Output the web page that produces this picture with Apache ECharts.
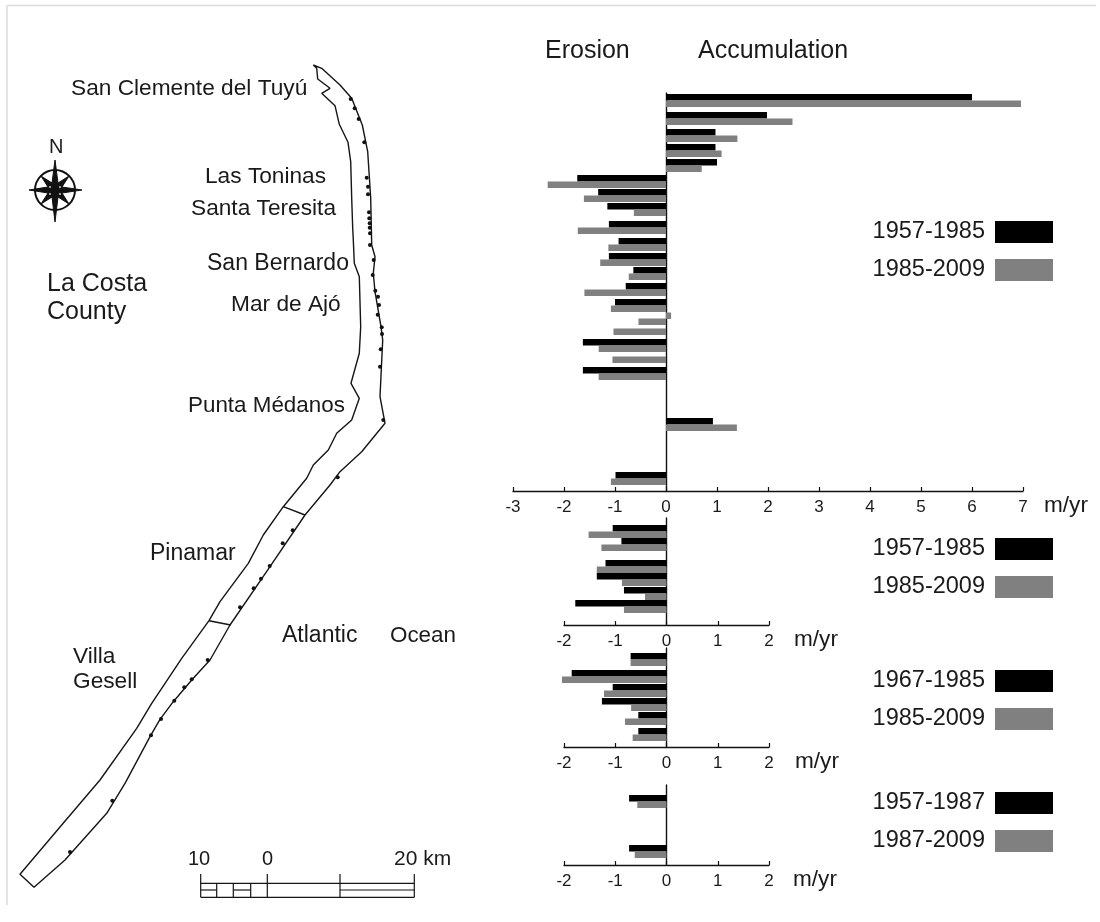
<!DOCTYPE html>
<html><head><meta charset="utf-8">
<style>html,body{margin:0;padding:0;background:#fff}#c{width:1100px;height:922px}</style>
<script src="https://cdn.jsdelivr.net/npm/echarts@6/dist/echarts.min.js"></script>
</head><body><div id="c"></div>
<script>
// ---- bar data: alongshore position of each transect, and retreat / advance rate in m/yr
const pos1 = [7,25,42,57,72,88,102,116,134,151,166,180,196,212,219,225,235,252,263,280,331,385];
const early1 = [6.0,1.98,0.97,0.97,1.0,-1.74,-1.33,-1.15,-1.12,-0.93,-1.12,-0.64,-0.79,-1.0,null,null,null,-1.63,null,-1.63,0.92,-0.99];
const late1 = [6.96,2.48,1.40,1.09,0.70,-2.32,-1.61,-0.63,-1.73,-1.13,-1.29,-0.73,-1.60,-1.08,0.10,-0.54,-1.03,-1.32,-1.05,-1.32,1.39,-1.08];
const pos2 = [13,26,48,61,75,88];
const early2 = [-1.05,-0.88,-1.19,-1.36,-0.83,-1.78];
const late2 = [-1.52,-1.27,-1.36,-0.87,-0.42,-0.83];
const pos3 = [11,28,42,56,70,86];
const early3 = [-0.70,-1.85,-1.05,-1.26,-0.55,-0.55];
const late3 = [-0.70,-2.04,-1.22,-0.69,-0.81,-0.66];
const pos4 = [16,66];
const early4 = [-0.73,-0.73];
const late4 = [-0.57,-0.62];
const periods = [['1957-1985','1985-2009'],['1957-1985','1985-2009'],['1967-1985','1985-2009'],['1957-1987','1987-2009']];

// ---- map data (coordinates)
const coast = [[313.3,65],[316.7,68.3],[317.7,79],[330,88.3],[321.7,93.3],[335,105.7],[339.3,124.3],[348,142.3],[350.7,161.7],[351.7,198.3],[352.7,228.3],[353.3,240],[354.3,263.3],[359.3,276.7],[360.7,326.7],[359.3,353.3],[351,383.3],[359.3,398.3],[351.7,420],[336.7,433.3],[328.3,450],[313.3,465],[306.7,478.3],[283.3,506.7],[263.3,535],[248.3,563.3],[220,601.7],[209,620.7],[181.7,658.3],[151.7,703.3],[136.7,728.3],[100,780],[61.7,825],[20,874.3],[34,887.3],[65,860],[106.7,813.3],[125,783.3],[150,736.7],[160,719.3],[173.3,701.7],[191.7,680],[210,660],[230,625],[270,566.7],[305,515],[330,485],[340,471.7],[361.7,451.7],[385,423.3],[380,396.7],[382.7,340],[381,326.7],[375,291.7],[373.3,273.3],[375,256.7],[371.7,245],[370.7,198.3],[367.7,151.7],[362.3,125],[351.7,98.3],[340,85],[321.7,68.3],[313.3,65]];
const limitA = [[283.3,506.7],[305,515]];
const limitB = [[209,620.7],[230.7,625]];
const sites = [[350.7,99],[354.7,108.3],[358.7,119],[364.3,142.3],[366.7,177.7],[368,186.7],[368,194.3],[369,212.3],[369.3,218.3],[369.7,223.3],[369.7,227.7],[370,233.3],[370,245],[373.7,260],[372.7,275],[375.3,290.7],[378,296.7],[379,305],[377.7,314.7],[381.7,327.3],[382,334],[380.7,349.3],[380,366.7],[383.3,420],[337.7,477.3],[292.7,530.3],[282.7,543.3],[269.7,566],[261,578.7],[253.7,588.3],[240,607.3],[207.7,660],[191.7,679.3],[184.3,687.3],[174.3,700.7],[161,719],[151,735.3],[112.3,800.7],[70,852]];
const scaleLines = [
 [[200.7,883.3],[414.3,883.3]],[[200.7,897.3],[414.3,897.3]],[[200.7,890],[216.7,890]],[[233.3,890],[250.7,890]],[[340,890],[414.3,890]],
 [[200.7,874],[200.7,897.3]],[[216.7,883.3],[216.7,897.3]],[[233.3,883.3],[233.3,897.3]],[[250.7,883.3],[250.7,897.3]],[[267.3,874],[267.3,897.3]],[[340,874],[340,897.3]],[[414.3,874],[414.3,897.3]]
];
const frameLines = [[[7,5.5],[1096,5.5]],[[7,5.5],[7,905]]];
const labelText = ['San Clemente del Tuyú','Las Toninas','Santa Teresita','San Bernardo','Mar de Ajó','Punta Médanos','Pinamar','Atlantic','Ocean','Villa','Gesell','La Costa','County','Erosion','Accumulation','N','10','0','20 km'];

// ---- layout of the texts
const labelPlace = [[71,89],[205,177],[191,209],[207,264],[231,305],[188,406],[150,554],[282,636],[390,636],[73,657],[73,682],[47,284],[47,312],[545,51],[698,51],[49,147],[188,859],[262,859],[394,859]];
const labelSize = [22.7,22.7,22.7,23,22.7,22.4,23,23,22.4,22.7,22.7,25,25,25,25,20,20,20,21];

const FONT = '"Liberation Sans", Arial, sans-serif';
const INK = '#1a1a1a';
const chart = echarts.init(document.getElementById('c'), null, {renderer:'canvas'});

const panels = [
 {top:93, bottom:491, min:-3, max:7, left:513, right:1023, pos:pos1, a:early1, b:late1, legendTop:220, nameGap:21},
 {top:518, bottom:625, min:-2, max:2, left:564, right:769, pos:pos2, a:early2, b:late2, legendTop:537, nameGap:25},
 {top:648, bottom:747, min:-2, max:2, left:564, right:769, pos:pos3, a:early3, b:late3, legendTop:669, nameGap:26},
 {top:785, bottom:865, min:-2, max:2, left:564, right:769, pos:pos4, a:early4, b:late4, legendTop:791, nameGap:24}
];

const grid=[], xAxis=[], yAxis=[], series=[], legend=[];
panels.forEach((p,i)=>{
  const n = p.bottom - p.top;
  grid.push({left:p.left, width:p.right-p.left, top:p.top, height:n, containLabel:false});
  xAxis.push({type:'value', gridIndex:i, min:p.min, max:p.max, interval:1, splitLine:{show:false},
    axisLine:{show:true,onZero:false, lineStyle:{color:'#111',width:1.4}},
    axisTick:{show:true,inside:true,length:4,lineStyle:{color:'#111',width:1.2}},
    axisLabel:{margin:8,fontFamily:FONT,fontSize:17,color:INK,hideOverlap:false,showMinLabel:true,showMaxLabel:true},
    name:'m/yr', nameLocation:'end', nameGap:p.nameGap,
    nameTextStyle:{fontFamily:FONT,fontSize:22.6,color:INK,verticalAlign:'top',align:'left',padding:[3,0,0,0]}});
  yAxis.push({type:'category', gridIndex:i, inverse:true, data:Array.from({length:n},(_,k)=>String(k)),
    axisLine:{show:true,onZero:true,lineStyle:{color:'#111',width:1.4}}, axisTick:{show:false}, axisLabel:{show:false}, splitLine:{show:false}});
  const toRow = vals => { const r=new Array(n).fill(null); p.pos.forEach((q,k)=>{r[q]=vals[k];}); return r; };
  [[periods[i][0],p.a,'#000000'],[periods[i][1],p.b,'#808080']].forEach(([name,vals,color])=>{
    series.push({type:'bar',name,xAxisIndex:i,yAxisIndex:i,data:toRow(vals),barWidth:6.5,barGap:0,clip:false,
      itemStyle:{color},silent:true,animation:false,z:2});
  });
  legend.push({show:true,orient:'vertical',right:47,top:p.legendTop,padding:0,align:'right',itemWidth:58,itemHeight:22,itemGap:14,icon:'rect',
    selectedMode:false,data:periods[i].slice(),textStyle:{fontFamily:FONT,fontSize:23.5,color:INK,padding:[0,5,0,0]}});
});

// page-coordinate grid for the map, compass and scale bar
const mi = panels.length;
grid.push({left:0,top:0,width:1100,height:922});
xAxis.push({type:'value',gridIndex:mi,min:0,max:1100,show:false});
yAxis.push({type:'value',gridIndex:mi,min:0,max:922,inverse:true,show:false});
const mapLine=(data,name,w,color)=>({type:'line',name,xAxisIndex:mi,yAxisIndex:mi,data,showSymbol:false,symbol:'none',silent:true,animation:false,
   lineStyle:{color:color||'#151515',width:w},z:3});
series.push(mapLine(coast,'coast',1.4),mapLine(limitA,'limitA',1.4),mapLine(limitB,'limitB',1.4));
scaleLines.forEach((s,k)=>series.push(mapLine(s,'scale'+k,1.2)));
frameLines.forEach((s,k)=>series.push(mapLine(s,'frame'+k,1.6,'#dcdcdc')));
series.push({type:'scatter',name:'sites',xAxisIndex:mi,yAxisIndex:mi,data:sites,symbolSize:4,itemStyle:{color:'#111',opacity:1},silent:true,animation:false,z:4});
series.push({type:'scatter',name:'labels',xAxisIndex:mi,yAxisIndex:mi,symbolSize:0,silent:true,animation:false,itemStyle:{opacity:1},
  data:labelText.map((t,k)=>({value:labelPlace[k],name:t,label:{fontSize:labelSize[k]}})),
  label:{show:true,position:'right',distance:0,formatter:'{b}',fontFamily:FONT,color:INK},z:5});

// compass rose
const cx=55, cy=190;
const star=[[0,-30],[3,-7],[14,-14],[7,-3],[27,0],[7,3],[14,14],[3,7],[0,32],[-3,7],[-14,14],[-7,3],[-26,0],[-7,-3],[-14,-14],[-3,-7]].map(d=>[cx+d[0],cy+d[1]]);
const flecks=[[-5,-3],[5,-3],[-5,4],[5,4]];

chart.setOption({
  animation:false, backgroundColor:'#fff', grid, xAxis, yAxis, series, legend,
  tooltip:{show:false},
  graphic:[
    {type:'circle',shape:{cx,cy,r:20},style:{fill:'#fff',stroke:'#111',lineWidth:2},silent:true,z:6},
    {type:'polygon',shape:{points:star},style:{fill:'#111',stroke:'#111',lineWidth:1},silent:true,z:7}
  ].concat(flecks.map(f=>({type:'circle',shape:{cx:cx+f[0],cy:cy+f[1],r:0.9},style:{fill:'#ddd'},silent:true,z:8})))
});
</script></body></html>
